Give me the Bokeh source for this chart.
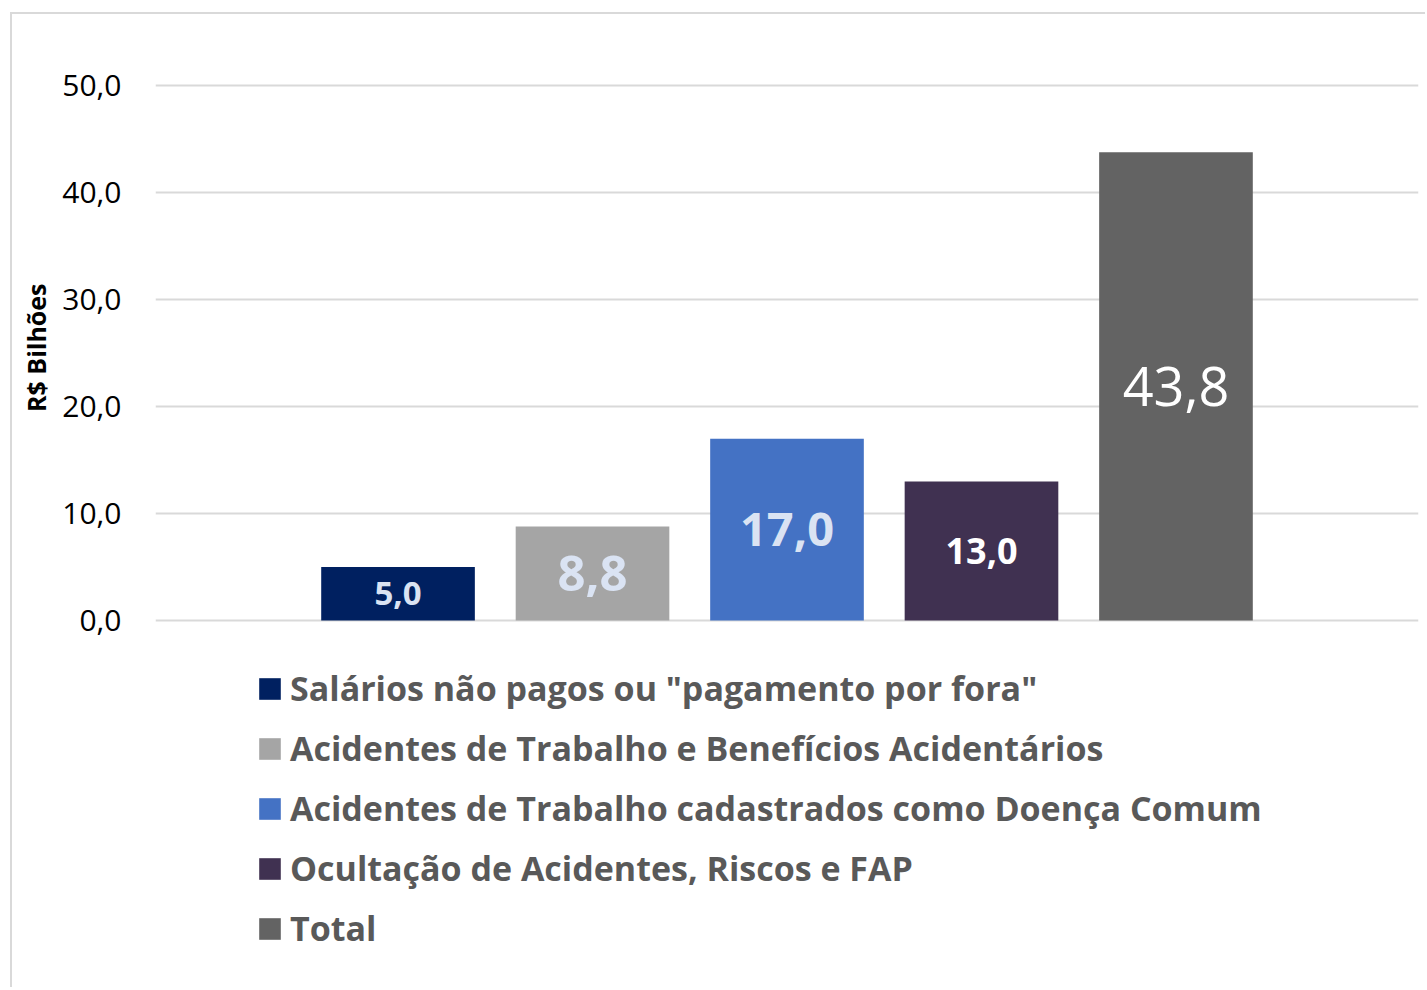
from bokeh.plotting import figure
from bokeh.models import FactorRange, Range1d, ColumnDataSource, Legend, LegendItem, FixedTicker, Title
from bokeh.core.properties import value
from bokeh.embed import file_html
from bokeh.resources import INLINE

categories = [
    'Salários não pagos ou "pagamento por fora"',
    "Acidentes de Trabalho e Benefícios Acidentários",
    "Acidentes de Trabalho cadastrados como Doença Comum",
    "Ocultação de Acidentes, Riscos e FAP",
    "Total",
]
values = [5.0, 8.8, 17.0, 13.0, 43.8]
bar_colors = ["#002060", "#A5A5A5", "#4472C4", "#403151", "#636363"]
label_colors = ["#DAE3F3", "#DAE3F3", "#DAE3F3", "#FFFFFF", "#FFFFFF"]
label_sizes = ["33px", "49px", "47px", "36px", "54px"]
label_bold = [True, True, True, True, False]
y_ticks = [0, 10, 20, 30, 40, 50]
y_tick_labels = ["0,0", "10,0", "20,0", "30,0", "40,0", "50,0"]
y_axis_title = "R$ Bilhões"

labels = [f"{v:.1f}".replace(".", ",") for v in values]

src = ColumnDataSource(dict(cat=categories, val=values, color=bar_colors))

# the frame reaches down to the page bottom so the legend can sit inside it
p = figure(
    width=1415, height=975,
    x_range=FactorRange(factors=categories, range_padding=0.747, range_padding_units="absolute"),
    y_range=Range1d(-34.5, 50.5),
    output_backend="svg", toolbar_location=None,
    min_border_left=143, min_border_right=9, min_border_top=66, min_border_bottom=0,
)
p.styles = {"margin-left": "10px", "margin-top": "12px",
            "border-left": "2px solid #D9D9D9", "border-top": "2px solid #D9D9D9"}
p.outline_line_color = None
p.background_fill_color = "white"
p.border_fill_color = "white"

r = p.vbar(x="cat", top="val", bottom=0, width=0.79, source=src, fill_color="color", line_color=None)

for bold in (True, False):
    idx = [i for i, b in enumerate(label_bold) if b == bold]
    tsrc = ColumnDataSource(dict(
        cat=[categories[i] for i in idx],
        mid=[values[i] / 2 for i in idx],
        txt=[labels[i] for i in idx],
        size=[label_sizes[i] for i in idx],
        tcol=[label_colors[i] for i in idx],
    ))
    p.text(x="cat", y="mid", text="txt", source=tsrc, text_align="center", text_baseline="middle",
           text_font=value("Open Sans"), text_font_size="size", text_color="tcol",
           text_font_style="bold" if bold else "normal")

p.xaxis.visible = False
p.xgrid.grid_line_color = None
p.ygrid.grid_line_color = "#D9D9D9"
p.ygrid.grid_line_width = 2

ya = p.yaxis[0]
ya.ticker = FixedTicker(ticks=y_ticks)
ya.major_label_overrides = {t: l for t, l in zip(y_ticks, y_tick_labels)}
ya.axis_line_color = None
ya.major_tick_line_color = None
ya.minor_tick_line_color = None
ya.major_label_standoff = 28
ya.major_label_text_font = "Open Sans"
ya.major_label_text_font_size = "30px"
ya.major_label_text_color = "#000000"

# y axis title placed beside the value axis (0..50 part of the frame)
ytitle = Title(text=y_axis_title, align="right", offset=203, vertical_align="top", standoff=10,
               text_font="Open Sans", text_font_size="25px", text_font_style="bold",
               text_color="#000000")
p.add_layout(ytitle, "left")

legend = Legend(
    items=[LegendItem(label=c, renderers=[r], index=i) for i, c in enumerate(categories)],
    location=(101, 38),
    orientation="vertical",
    label_text_font="Open Sans",
    label_text_font_size="34px",
    label_text_font_style="bold",
    label_text_color="#595959",
    glyph_width=27, glyph_height=27,
    label_standoff=7,
    spacing=14,
    padding=0, margin=0,
    border_line_alpha=0,
    background_fill_alpha=0,
)
p.add_layout(legend, "center")

open("out.html", "w").write(file_html(p, INLINE))
